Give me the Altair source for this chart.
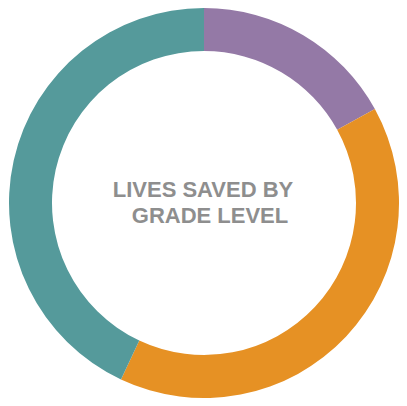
import altair as alt
import pandas as pd

categories = ["Grade A", "Grade B", "Grade C"]
values = [17, 40, 43]
order = [1, 2, 3]
colors = ["#9479A6", "#E69124", "#559A9B"]
title_text = ["LIVES SAVED BY", "GRADE LEVEL"]

df = pd.DataFrame({"category": categories, "value": values, "order": order})

arc = alt.Chart(df).mark_arc(outerRadius=195, innerRadius=152, stroke=None).encode(
    theta=alt.Theta("value:Q", stack=True),
    order=alt.Order("order:Q"),
    color=alt.Color("category:N", scale=alt.Scale(domain=categories, range=colors), legend=None),
    x=alt.value(196),
    y=alt.value(195),
)

text_style = dict(font="Liberation Sans", fontSize=22, fontWeight="bold", color="#8E8E8E",
                  align="center", baseline="alphabetic")

line1 = alt.Chart(pd.DataFrame({"line": [title_text[0]]})).mark_text(**text_style).encode(
    text="line:N", x=alt.value(195), y=alt.value(189)
)
line2 = alt.Chart(pd.DataFrame({"line": [title_text[1]]})).mark_text(**text_style).encode(
    text="line:N", x=alt.value(202), y=alt.value(214.5)
)

chart = alt.layer(arc, line1, line2).properties(
    width=391, height=390, padding=0, autosize=alt.AutoSizeParams(type="none")
).configure_view(stroke=None)
chart.save("out.html", embed_options={"renderer": "svg", "actions": False})
